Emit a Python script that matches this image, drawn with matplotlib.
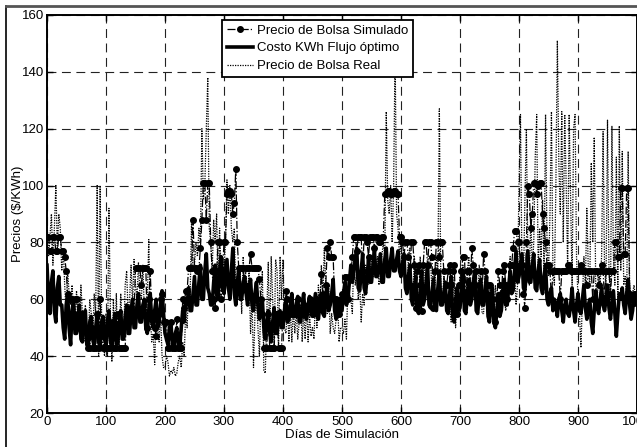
import numpy as np
import matplotlib
matplotlib.use("Agg")
from matplotlib import pyplot as plt
from matplotlib.lines import Line2D

plt.rcParams['font.family'] = ['Liberation Sans', 'DejaVu Sans']
plt.rcParams['font.size'] = 9.5

# dias de simulacion (cada 2.5 dias)
dias = np.arange(0, 1000, 2.5)

# precio de bolsa simulado, una fila por cada 100 dias
precio_sim = [
    82, 82, 77, 77, 82, 82, 77, 77, 82, 82, 77, 77, 75, 70, 62, 60, 60, 60, 55, 60,
    60, 55, 50, 55, 55, 50, 50, 50, 43, 43, 50, 43, 43, 43, 55, 43, 60, 50, 43, 43,
    50, 43, 43, 43, 52, 43, 43, 43, 55, 43, 43, 43, 43, 43, 55, 55, 57, 55, 55, 55,
    71, 71, 71, 71, 65, 71, 71, 71, 50, 60, 70, 55, 55, 50, 47, 55, 55, 60, 62, 52,
    52, 52, 43, 43, 52, 43, 43, 43, 53, 43, 43, 43, 60, 57, 63, 63, 71, 71, 71, 88,
    71, 71, 70, 71, 78, 88, 101, 101, 88, 101, 101, 80, 70, 60, 57, 70, 80, 80, 60, 70,
    80, 80, 97, 98, 98, 97, 90, 94, 106, 80, 71, 71, 71, 71, 65, 71, 71, 71, 76, 71,
    71, 71, 71, 71, 67, 60, 55, 43, 43, 43, 55, 43, 43, 43, 43, 55, 55, 43, 43, 43,
    55, 55, 63, 60, 55, 55, 57, 55, 55, 55, 60, 55, 55, 55, 58, 55, 57, 57, 60, 58,
    55, 58, 59, 60, 58, 60, 69, 62, 60, 65, 78, 75, 80, 75, 75, 60, 60, 55, 55, 60,
    62, 60, 68, 68, 60, 68, 68, 75, 82, 82, 77, 82, 82, 82, 70, 82, 82, 80, 75, 82,
    82, 82, 78, 82, 82, 80, 80, 82, 82, 97, 97, 98, 98, 97, 97, 98, 98, 97, 97, 82,
    82, 80, 75, 80, 80, 75, 65, 80, 80, 72, 57, 70, 72, 65, 56, 72, 80, 80, 72, 80,
    80, 75, 57, 70, 80, 80, 75, 80, 80, 70, 60, 65, 70, 72, 65, 70, 72, 60, 55, 65,
    65, 70, 75, 75, 62, 70, 70, 65, 78, 72, 65, 70, 60, 65, 70, 62, 76, 70, 62, 65,
    65, 60, 60, 55, 52, 60, 70, 65, 62, 70, 72, 65, 60, 65, 72, 72, 78, 84, 84, 80,
    80, 72, 72, 62, 57, 80, 100, 97, 85, 90, 101, 101, 97, 100, 101, 101, 90, 85, 80, 72,
    72, 70, 60, 70, 70, 70, 70, 70, 60, 70, 70, 70, 70, 72, 72, 70, 70, 70, 70, 70,
    70, 70, 72, 70, 70, 70, 65, 70, 70, 70, 60, 70, 70, 70, 65, 70, 72, 70, 60, 70,
    70, 70, 62, 70, 70, 80, 80, 75, 75, 99, 99, 76, 76, 99, 99, 62, 60, 60, 62, 62,
]

# costo del kWh con flujo optimo
costo_flujo = [
    72, 60, 55, 66, 70, 56, 52, 64, 68, 58, 58, 50, 46, 58, 62, 50, 44, 56, 60, 48,
    48, 54, 58, 46, 45, 55, 56, 44, 43, 52, 54, 46, 44, 50, 55, 45, 43, 52, 54, 46,
    44, 52, 56, 45, 43, 50, 55, 44, 45, 52, 56, 46, 46, 54, 58, 48, 48, 56, 60, 50,
    50, 58, 62, 52, 52, 58, 60, 50, 48, 56, 62, 52, 50, 56, 60, 50, 52, 58, 63, 55,
    48, 46, 44, 50, 52, 44, 43, 48, 50, 44, 44, 50, 56, 52, 60, 58, 64, 56, 56, 62,
    68, 58, 58, 66, 72, 60, 60, 70, 76, 64, 62, 58, 58, 66, 72, 62, 60, 70, 75, 64,
    62, 68, 74, 64, 60, 70, 78, 62, 58, 66, 70, 60, 60, 66, 68, 62, 58, 64, 67, 58,
    56, 62, 66, 58, 53, 58, 60, 50, 46, 52, 56, 48, 45, 52, 57, 48, 48, 54, 56, 50,
    50, 56, 60, 52, 53, 58, 62, 54, 54, 58, 61, 52, 52, 58, 62, 54, 53, 58, 61, 55,
    54, 58, 62, 55, 53, 58, 62, 55, 54, 60, 64, 56, 58, 62, 67, 56, 53, 57, 60, 56,
    56, 62, 66, 58, 60, 66, 72, 66, 70, 74, 78, 64, 63, 70, 76, 64, 62, 68, 74, 66,
    66, 72, 77, 68, 68, 72, 76, 66, 66, 74, 78, 68, 68, 74, 78, 70, 70, 74, 77, 70,
    68, 72, 76, 64, 62, 68, 72, 60, 58, 64, 68, 56, 55, 62, 70, 58, 60, 66, 72, 58,
    57, 62, 67, 58, 56, 64, 70, 58, 58, 62, 66, 56, 55, 62, 68, 54, 52, 58, 64, 56,
    57, 64, 70, 56, 55, 62, 67, 58, 60, 66, 70, 56, 55, 62, 67, 58, 58, 64, 68, 54,
    52, 58, 64, 52, 50, 56, 62, 54, 56, 62, 67, 58, 58, 64, 70, 62, 63, 70, 77, 66,
    68, 72, 76, 64, 63, 70, 77, 66, 66, 72, 76, 64, 63, 70, 74, 64, 62, 68, 72, 60,
    58, 62, 64, 56, 60, 58, 54, 60, 62, 56, 52, 58, 60, 55, 54, 58, 64, 56, 52, 58,
    62, 56, 55, 60, 65, 57, 53, 58, 60, 52, 48, 56, 63, 57, 55, 60, 64, 58, 56, 60,
    65, 57, 53, 58, 63, 55, 47, 55, 62, 60, 64, 58, 55, 62, 67, 58, 53, 56, 62, 58,
]

# precio de bolsa real
precio_real = [
    88, 75, 82, 90, 72, 85, 100, 78, 90, 85, 70, 78, 65, 55, 70, 62, 58, 65, 55, 50,
    63, 55, 48, 65, 55, 45, 58, 50, 45, 60, 55, 45, 62, 55, 100, 40, 100, 55, 45, 40,
    55, 40, 92, 55, 38, 60, 45, 62, 42, 45, 62, 50, 48, 65, 70, 55, 60, 72, 58, 74,
    65, 60, 73, 62, 60, 72, 55, 52, 60, 81, 55, 45, 48, 37, 55, 50, 45, 55, 40, 36,
    36, 40, 38, 33, 35, 34, 36, 33, 34, 38, 40, 36, 45, 40, 55, 50, 65, 60, 88, 70,
    72, 80, 75, 85, 80, 120, 95, 100, 120, 138, 85, 80, 70, 88, 80, 90, 65, 85, 70, 75,
    70, 80, 102, 90, 100, 85, 80, 85, 60, 70, 65, 70, 55, 75, 62, 68, 62, 70, 48, 60,
    36, 55, 60, 50, 40, 60, 70, 35, 34, 55, 73, 45, 75, 60, 42, 74, 70, 42, 75, 60,
    74, 50, 48, 58, 45, 57, 45, 57, 48, 56, 46, 52, 58, 45, 56, 46, 58, 45, 55, 47,
    50, 46, 60, 50, 65, 55, 72, 60, 78, 65, 55, 65, 48, 55, 50, 48, 53, 60, 45, 50,
    50, 48, 53, 46, 65, 62, 60, 55, 75, 65, 70, 60, 66, 52, 62, 58, 72, 65, 65, 70,
    75, 68, 70, 72, 75, 65, 68, 75, 80, 75, 126, 95, 90, 100, 80, 100, 148, 90, 85, 75,
    80, 70, 75, 68, 62, 75, 78, 60, 60, 75, 70, 58, 58, 75, 65, 60, 72, 70, 60, 75,
    75, 62, 70, 65, 75, 70, 127, 65, 58, 68, 60, 55, 62, 58, 52, 60, 68, 50, 58, 62,
    68, 60, 72, 62, 58, 70, 75, 62, 62, 68, 70, 58, 58, 72, 68, 55, 55, 68, 62, 52,
    60, 65, 55, 52, 65, 58, 55, 62, 58, 60, 62, 56, 60, 68, 75, 62, 65, 70, 58, 65,
    100, 125, 70, 65, 95, 120, 75, 65, 90, 70, 80, 110, 125, 70, 85, 75, 95, 70, 125, 80,
    68, 90, 126, 70, 65, 100, 151, 108, 90, 126, 80, 125, 100, 70, 125, 95, 65, 120, 125, 75,
    60, 55, 43, 60, 75, 65, 92, 70, 65, 108, 80, 117, 65, 60, 70, 65, 75, 119, 70, 65,
    123, 70, 60, 121, 75, 65, 110, 60, 121, 70, 112, 65, 68, 60, 112, 65, 60, 62, 65, 60,
]

fig = plt.figure(figsize=(6.37, 4.47), dpi=100)
ax = fig.add_axes([47/637, 34/447, 590/637, 398/447])

ax.plot(dias, precio_sim, color='k', linestyle='-.', linewidth=0.9,
        marker='o', markersize=4.0, label='Precio de Bolsa Simulado')
ax.plot(dias, costo_flujo, color='k', linestyle='-', linewidth=2.6,
        label='Costo KWh Flujo óptimo')
ax.plot(dias, precio_real, color='k', linestyle=(0, (1, 1)), linewidth=0.9,
        label='Precio de Bolsa Real')

ax.set_xlim(0, 1000)
ax.set_ylim(20, 160)
ax.set_xticks(np.arange(0, 1001, 100))
ax.set_yticks(np.arange(20, 161, 20))
ax.grid(True, color='#222222', linestyle=(0, (8, 5)), linewidth=0.8)
ax.tick_params(direction='in', top=True, right=True, length=4, width=1, pad=2)
for s in ax.spines.values():
    s.set_linewidth(1.4)

ax.set_xlabel('Días de Simulación', labelpad=1)
ax.set_ylabel('Precios ($/KWh)')
ax.yaxis.set_label_coords(-0.039, 0.5)

leg = ax.legend(loc='upper left', bbox_to_anchor=(0.297, 0.988), fancybox=False,
                framealpha=1, edgecolor='k', borderpad=0.35, labelspacing=0.42,
                handlelength=2.0, handletextpad=0.3, borderaxespad=0)
leg.get_frame().set_linewidth(1.3)

# marco exterior
fig.add_artist(Line2D([6.5/637, 6.5/637], [0, 441/447], color='k', linewidth=1.2,
                      transform=fig.transFigure))
fig.add_artist(Line2D([6/637, 1], [441/447, 441/447], color='#555555', linewidth=2,
                      transform=fig.transFigure))

fig.savefig('out.png', dpi=100)
